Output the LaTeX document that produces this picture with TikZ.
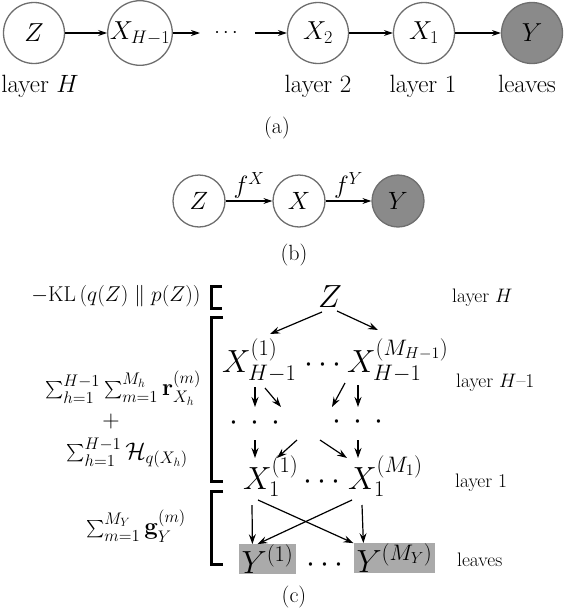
\RequirePackage{fix-cm}
\documentclass[tikz,border=0pt]{standalone}
\usepackage{exscale}
\usetikzlibrary{arrows.meta}
\definecolor{rimgray}{HTML}{6E6E6E}
\definecolor{leafgray}{HTML}{8A8A8A}
\definecolor{boxgray}{HTML}{AAAAAA}
\newcommand{\fsz}[1]{\fontsize{#1}{#1}\selectfont}
\newcommand{\smsum}{\mathop{\vcenter{\hbox{\fsz{17}$\sum$}}}\nolimits}
\begin{document}
\begin{tikzpicture}[x=1pt,y=-1pt,
  circA/.style={circle,draw=rimgray,line width=1.3pt,minimum size=61pt,inner sep=0pt,font=\fsz{26}},
  circB/.style={circle,draw=rimgray,line width=1.3pt,minimum size=52pt,inner sep=0pt,font=\fsz{25}},
  arrA/.style={-{Stealth[length=9pt,width=6pt,inset=3pt]},line width=1.1pt},
  arrC/.style={-{Stealth[length=10pt,width=7pt,inset=3.5pt]},line width=1.2pt},
  lblA/.style={anchor=base,inner sep=0pt,font=\fsz{25}},
  subcap/.style={inner sep=0pt,font=\fsz{22}},
  big/.style={anchor=base west,inner sep=0pt,font=\fsz{32}},
  rlbl/.style={anchor=base west,inner sep=0pt,font=\fsz{19.5}},
  llbl/.style={inner sep=0pt,font=\fsz{24}},
  leafbox/.style={fill=boxgray,inner xsep=3pt,inner ysep=0.5pt,font=\fsz{32}},
  brk/.style={line width=3pt}]
\useasboundingbox (0,0) rectangle (564,616);
% ---------------- (a)
\node[circA] (a1) at (34,33) {$Z$};
\node[circA] (a2) at (140,33) {$X_{H-1}$};
\coordinate (a2e) at (200,33);
\node[inner sep=0pt,font=\fsz{20}] (adots) at (226,33) {$\cdots$};
\coordinate (a3s) at (255,33);
\node[circA] (a3) at (318,33) {$X_2$};
\node[circA] (a4) at (424,33) {$X_1$};
\node[circA,fill=leafgray] (a5) at (532,33) {$Y$};
\draw[arrA] (a1) -- (a2);
\draw[arrA] (a2) -- (a2e);
\draw[arrA] (a3s) -- (a3);
\draw[arrA] (a3) -- (a4);
\draw[arrA] (a4) -- (a5);
\node[lblA] (la1) at (40,92) {layer $H$};
\node[lblA] (la3) at (318,92) {layer 2};
\node[lblA] (la4) at (423,92) {layer 1};
\node[lblA] (la5) at (527,92) {leaves};
\node[subcap] (capa) at (277,128) {(a)};
% ---------------- (b)
\node[circB] (b1) at (199,201) {$Z$};
\node[circB] (b2) at (299,201) {$X$};
\node[circB,fill=leafgray] (b3) at (398,201) {$Y$};
\draw[arrA] (b1) -- node[above,inner sep=2pt,font=\fsz{25}] {$f^X$} (b2);
\draw[arrA] (b2) -- node[above,inner sep=2pt,font=\fsz{25}] {$f^Y$} (b3);
\node[subcap] (capb) at (294,255) {(b)};
% ---------------- (c)
\node[big,anchor=base] (cZ) at (330,307) {$Z$};
\node[big] (x1) at (222,372) {$X^{(1)}_{H-1}$};
\node[big,anchor=base] (xd) at (323,372) {$\cdots$};
\node[big] (x2) at (347,372) {$X^{(M_{H-1})}_{H-1}$};
\node[inner sep=0pt,font=\fsz{32}] (d1) at (255,423) {$\cdotp\hspace{7pt}\cdotp\hspace{7pt}\cdotp$};
\node[inner sep=0pt,font=\fsz{32}] (d2) at (358,422) {$\cdotp\hspace{7pt}\cdotp\hspace{7pt}\cdotp$};
\node[big] (y1) at (243,489) {$X^{(1)}_{1}$};
\node[big,anchor=base] (yd) at (322,489) {$\cdots$};
\node[big] (y2) at (348,489) {$X^{(M_1)}_{1}$};
\node[leafbox] (l1) at (267.5,559) {$Y^{(1)}$};
\node[big,anchor=base] (ld) at (325,572) {$\cdots$};
\node[leafbox] (l2) at (394.5,558) {$Y^{(M_Y)}$};
% arrows
\draw[arrC] ([xshift=-8pt,yshift=-5pt]cZ.base) -- ([xshift=48pt,yshift=38pt]x1.base west);
\draw[arrC] ([xshift=7pt,yshift=-4pt]cZ.base) -- ([xshift=31pt,yshift=42pt]x2.base west);
\draw[arrC] ([xshift=33pt,yshift=-15pt]x1.base west) -- ([yshift=16pt]d1.center);
\draw[arrC] ([xshift=43pt,yshift=-16pt]x1.base west) -- ([xshift=26pt,yshift=16pt]d1.center);
\draw[arrC] ([xshift=-2pt,yshift=-11pt]x2.base west) -- ([xshift=-26pt,yshift=15pt]d2.center);
\draw[arrC] ([xshift=11pt,yshift=-13pt]x2.base west) -- ([yshift=15pt]d2.center);
\draw[arrC] ([yshift=-17pt]d1.center) -- ([xshift=12pt,yshift=31pt]y1.base west);
\draw[arrC] ([xshift=42pt,yshift=-17pt]d1.center) -- ([xshift=34pt,yshift=31pt]y1.base west);
\draw[arrC] ([xshift=-38pt,yshift=-18pt]d2.center) -- ([xshift=-1pt,yshift=31pt]y2.base west);
\draw[arrC] ([yshift=-18pt]d2.center) -- ([xshift=10pt,yshift=31pt]y2.base west);
\draw[arrC] ([xshift=9pt,yshift=-16pt]y1.base west) -- ([xshift=14pt]l1.north west);
\draw[arrC] ([xshift=15pt,yshift=-11pt]y1.base west) -- (l2.north west);
\draw[arrC] ([xshift=4pt,yshift=-11pt]y2.base west) -- ([xshift=19pt]l1.north west);
\draw[arrC] ([xshift=14pt,yshift=-16pt]y2.base west) -- ([xshift=10pt]l2.north west);
% right labels
\node[rlbl] (rH) at (452,302) {layer $H$};
\node[rlbl] (rH1) at (456,387) {layer $H$--1};
\node[rlbl] (r1) at (455,487) {layer 1};
\node[rlbl] (rl) at (457,566) {leaves};
% left labels
\node[llbl,font=\fsz{21.5}] (kl) at (116,296) {$-\mathrm{KL}\left(q(Z)\parallel p(Z)\right)$};
\node[llbl] (s1) at (123,388) {$\smsum_{h=1}^{H-1}\smsum_{m=1}^{M_h}\mathbf{r}_{X_h}^{(m)}$};
\node[llbl] (pl) at (111,421) {$+$};
\node[llbl] (s2) at (127,453) {$\smsum_{h=1}^{H-1}\mathcal{H}_{q(X_h)}$};
\node[llbl] (sg) at (136,526) {$\smsum_{m=1}^{M_Y}\mathbf{g}_{Y}^{(m)}$};
% brackets
\draw[brk] (222,286) -- (211.5,286) -- (211.5,308.5) -- (222,308.5);
\draw[brk] (223,317) -- (211.5,317) -- (211.5,481.5) -- (223,481.5);
\draw[brk] (223,491) -- (211.5,491) -- (211.5,564.5) -- (223,564.5);
\node[subcap] (capc) at (294,597) {(c)};
\end{tikzpicture}
\end{document}
